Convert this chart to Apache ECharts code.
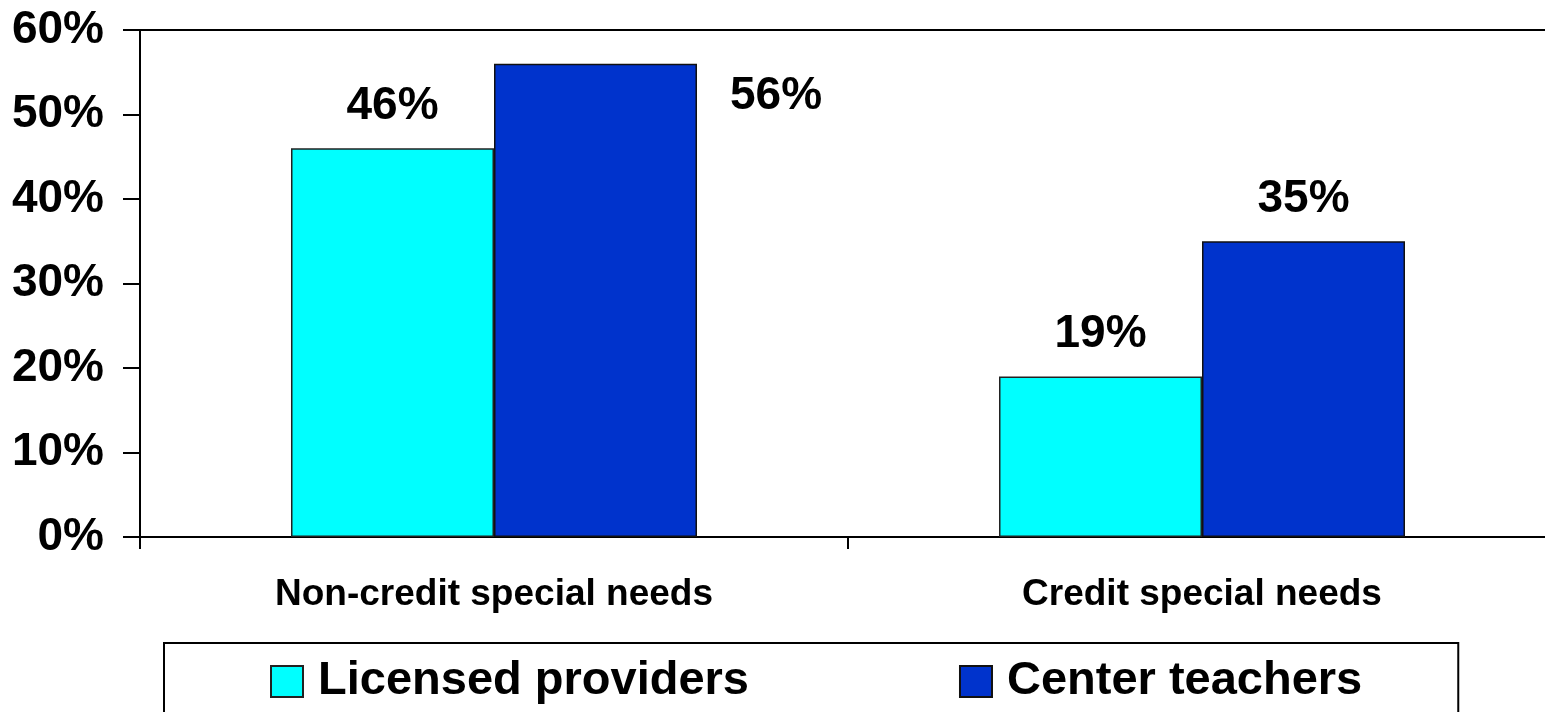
<!DOCTYPE html>
<html>
<head>
<meta charset="utf-8">
<script src="https://cdn.jsdelivr.net/npm/echarts@6/dist/echarts.min.js"></script>
<style>
  html, body { margin: 0; padding: 0; background: #ffffff; overflow: hidden; }
  /* the plot runs slightly past the right edge of the page */
  #chart { width: 1557px; height: 712px; }
</style>
</head>
<body>
<div id="chart"></div>
<script>
// Share of providers with special-needs training, by type
const categories = ['Non-credit special needs', 'Credit special needs'];
const seriesNames = ['Licensed providers', 'Center teachers'];
const licensedProviders = [46, 19];
const centerTeachers = [56, 35];
const yTicks = { min: 0, max: 60, interval: 10 };

const FONT = "'Liberation Sans', Arial, Helvetica, sans-serif";

const valueLabel = {
  show: true,
  position: 'top',
  distance: 19,
  formatter: '{c}%',
  color: '#000',
  fontFamily: FONT,
  fontWeight: 'bold',
  fontSize: 46
};

// The tallest bar touches the top of the plot, so its label sits beside it
function withLabels(values) {
  return values.map(function (v) {
    if (v > 52) {
      return {
        value: v,
        label: { position: [236, 10], align: 'left', verticalAlign: 'top' }
      };
    }
    return v;
  });
}

const chart = echarts.init(document.getElementById('chart'), null, { renderer: 'canvas' });

const axisLineStyle = { color: '#000', width: 2 };

chart.setOption({
  backgroundColor: '#ffffff',
  animation: false,
  grid: {
    left: 140,
    right: 1,
    top: 30,
    bottom: 175,
    show: false,
    containLabel: false
  },
  legend: {
    data: seriesNames,
    left: 164,
    top: 643,
    orient: 'horizontal',
    icon: 'rect',
    itemWidth: 32,
    itemHeight: 31,
    itemGap: 210,
    padding: [15, 96, 40, 106],
    borderColor: '#000',
    borderWidth: 2,
    backgroundColor: '#fff',
    selectedMode: false,
    textStyle: {
      color: '#000',
      fontFamily: FONT,
      fontWeight: 'bold',
      fontSize: 47,
      padding: [0, 0, 0, 10]
    }
  },
  xAxis: [
    {
      type: 'category',
      data: categories,
      axisLine: { show: true, lineStyle: axisLineStyle },
      axisTick: { show: true, length: 12, lineStyle: axisLineStyle },
      axisLabel: {
        color: '#000',
        fontFamily: FONT,
        fontWeight: 'bold',
        fontSize: 37,
        margin: 39
      },
      splitLine: { show: false }
    },
    {
      // top frame line of the plot
      type: 'category',
      position: 'top',
      data: categories,
      axisLine: { show: true, lineStyle: axisLineStyle },
      axisTick: { show: false },
      axisLabel: { show: false },
      splitLine: { show: false }
    }
  ],
  yAxis: {
    type: 'value',
    min: yTicks.min,
    max: yTicks.max,
    interval: yTicks.interval,
    axisLine: { show: true, lineStyle: axisLineStyle },
    axisTick: { show: true, inside: false, length: 17, lineStyle: axisLineStyle },
    axisLabel: {
      formatter: '{value}%',
      color: '#000',
      fontFamily: FONT,
      fontWeight: 'bold',
      fontSize: 46,
      margin: 36
    },
    splitLine: { show: false }
  },
  series: [
    {
      name: seriesNames[0],
      type: 'bar',
      data: withLabels(licensedProviders),
      barWidth: 203,
      barGap: '0%',
      itemStyle: { color: '#00FFFF', borderColor: '#222', borderWidth: 1.5 },
      label: valueLabel
    },
    {
      name: seriesNames[1],
      type: 'bar',
      data: withLabels(centerTeachers),
      barWidth: 203,
      barGap: '0%',
      itemStyle: { color: '#0033CC', borderColor: '#111', borderWidth: 1.5 },
      label: valueLabel
    }
  ]
});
</script>
</body>
</html>
